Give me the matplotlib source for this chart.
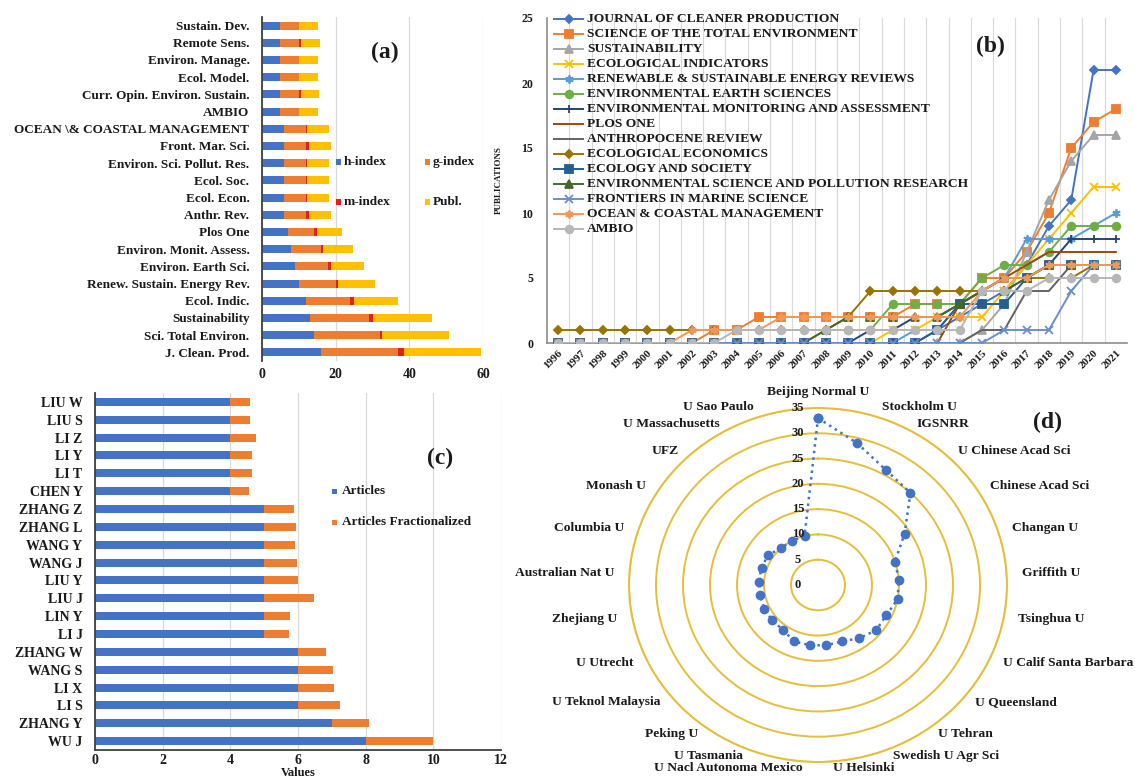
import numpy as np
import matplotlib
matplotlib.use('Agg')
import matplotlib.pyplot as plt
from matplotlib.patches import Rectangle
from matplotlib.lines import Line2D
import matplotlib.transforms as mtransforms

plt.rcParams['font.family'] = ['Liberation Serif', 'DejaVu Serif']
plt.rcParams['font.weight'] = 'bold'
TXT = '#1a1a1a'
plt.rcParams['text.color'] = TXT
plt.rcParams['xtick.color'] = TXT
plt.rcParams['ytick.color'] = TXT

W, H = 1135, 779

# ---------------- data (a) ----------------
journals_a = ['Sustain. Dev.', 'Remote Sens.', 'Environ. Manage.', 'Ecol. Model.',
              'Curr. Opin. Environ. Sustain.', 'AMBIO', 'OCEAN \\& COASTAL MANAGEMENT',
              'Front. Mar. Sci.', 'Environ. Sci. Pollut. Res.', 'Ecol. Soc.', 'Ecol. Econ.',
              'Anthr. Rev.', 'Plos One', 'Environ. Monit. Assess.', 'Environ. Earth Sci.',
              'Renew. Sustain. Energy Rev.', 'Ecol. Indic.', 'Sustainability',
              'Sci. Total Environ.', 'J. Clean. Prod.']
h_index = [5, 5, 5, 5, 5, 5, 6, 6, 6, 6, 6, 6, 7, 8, 9, 10, 12, 13, 14, 16]
g_index = [5, 5, 5, 5, 5, 5, 6, 6, 6, 6, 6, 6, 7, 8, 9, 10, 12, 16, 18, 21]
m_index = [0.15, 0.7, 0.15, 0.15, 0.6, 0.15, 0.15, 0.8, 0.15, 0.15, 0.15, 0.7, 0.8, 0.6,
           0.8, 0.6, 0.9, 1.2, 0.7, 1.5]
publ = [5, 5, 5, 5, 5, 5, 6, 6, 6, 6, 6, 6, 7, 8, 9, 10, 12, 16, 18, 21]

# ---------------- data (b) ----------------
years = list(range(1996, 2022))
series_names = ['JOURNAL OF CLEANER PRODUCTION', 'SCIENCE OF THE TOTAL ENVIRONMENT',
                'SUSTAINABILITY', 'ECOLOGICAL INDICATORS',
                'RENEWABLE & SUSTAINABLE ENERGY REVIEWS', 'ENVIRONMENTAL EARTH SCIENCES',
                'ENVIRONMENTAL MONITORING AND ASSESSMENT', 'PLOS ONE', 'ANTHROPOCENE REVIEW',
                'ECOLOGICAL ECONOMICS', 'ECOLOGY AND SOCIETY',
                'ENVIRONMENTAL SCIENCE AND POLLUTION RESEARCH', 'FRONTIERS IN MARINE SCIENCE',
                'OCEAN & COASTAL MANAGEMENT', 'AMBIO']
jcp = [0, 0, 0, 0, 0, 0, 0, 0, 0, 0, 0, 0, 0, 0, 0, 0, 0, 1, 2, 3, 4, 6, 9, 11, 21, 21]
stoten = [0, 0, 0, 0, 0, 0, 0, 1, 1, 2, 2, 2, 2, 2, 2, 2, 3, 3, 3, 5, 5, 7, 10, 15, 17, 18]
sustainability = [0, 0, 0, 0, 0, 0, 0, 0, 0, 0, 0, 0, 0, 0, 0, 0, 0, 0, 0, 1, 3, 7, 11, 14, 16, 16]
ecol_indic = [0, 0, 0, 0, 0, 0, 0, 0, 0, 0, 0, 0, 0, 0, 0, 1, 1, 2, 2, 2, 4, 6, 8, 10, 12, 12]
rser = [0, 0, 0, 0, 0, 0, 0, 0, 0, 0, 0, 0, 0, 0, 0, 0, 1, 1, 3, 4, 5, 8, 8, 8, 9, 10]
env_earth = [0, 0, 0, 0, 0, 0, 0, 0, 0, 0, 0, 0, 1, 1, 1, 3, 3, 3, 3, 5, 6, 6, 7, 9, 9, 9]
env_monit = [0, 0, 0, 0, 0, 0, 0, 0, 0, 0, 0, 0, 0, 0, 1, 1, 2, 2, 3, 4, 5, 5, 6, 8, 8, 8]
plos_one = [0, 0, 0, 0, 0, 0, 0, 0, 0, 0, 0, 0, 0, 0, 0, 0, 0, 0, 3, 4, 5, 6, 7, 7, 7, 7]
anthr_rev = [0, 0, 0, 0, 0, 0, 0, 0, 0, 0, 0, 0, 0, 0, 0, 0, 0, 0, 0, 1, 1, 4, 4, 6, 6, 6]
ecol_econ = [1, 1, 1, 1, 1, 1, 1, 1, 1, 1, 1, 1, 1, 2, 4, 4, 4, 4, 4, 4, 4, 5, 5, 5, 6, 6]
ecol_soc = [0, 0, 0, 0, 0, 0, 0, 0, 0, 0, 0, 0, 0, 0, 0, 0, 0, 1, 3, 3, 3, 5, 6, 6, 6, 6]
espr = [0, 0, 0, 0, 0, 0, 0, 0, 0, 0, 0, 0, 1, 2, 2, 2, 2, 2, 3, 4, 4, 5, 6, 6, 6, 6]
front_mar = [0, 0, 0, 0, 0, 0, 0, 0, 0, 0, 0, 0, 0, 0, 0, 0, 0, 0, 0, 0, 1, 1, 1, 4, 6, 6]
ocean_coast = [0, 0, 0, 0, 0, 0, 1, 1, 1, 1, 2, 2, 2, 2, 2, 2, 2, 2, 2, 4, 5, 5, 6, 6, 6, 6]
ambio = [0, 0, 0, 0, 0, 0, 0, 0, 1, 1, 1, 1, 1, 1, 1, 1, 1, 1, 1, 4, 4, 4, 5, 5, 5, 5]

# ---------------- data (c) ----------------
authors = ['LIU W', 'LIU S', 'LI Z', 'LI Y', 'LI T', 'CHEN Y', 'ZHANG Z', 'ZHANG L',
           'WANG Y', 'WANG J', 'LIU Y', 'LIU J', 'LIN Y', 'LI J', 'ZHANG W', 'WANG S',
           'LI X', 'LI S', 'ZHANG Y', 'WU J']
articles = [4, 4, 4, 4, 4, 4, 5, 5, 5, 5, 5, 5, 5, 5, 6, 6, 6, 6, 7, 8]
articles_frac = [0.57, 0.57, 0.75, 0.63, 0.65, 0.56, 0.87, 0.95, 0.9, 0.96, 1.0, 1.47,
                 0.76, 0.74, 0.83, 1.04, 1.06, 1.24, 1.1, 2.0]

# ---------------- data (d) ----------------
institutions = ['Beijing Normal U', 'Stockholm U', 'IGSNRR', 'U Chinese Acad Sci',
                'Chinese Acad Sci', 'Changan U', 'Griffith U', 'Tsinghua U',
                'U Calif Santa Barbara', 'U Queensland', 'U Tehran', 'Swedish U Agr Sci',
                'U Helsinki', 'U Nacl Autonoma Mexico', 'U Tasmania', 'Peking U',
                'U Teknol Malaysia', 'U Utrecht', 'Zhejiang U', 'Australian Nat U',
                'Columbia U', 'Monash U', 'UFZ', 'U Massachusetts', 'U Sao Paulo']
inst_counts = [33, 29, 26, 25, 19, 15, 15, 15, 14, 14, 13, 12, 12, 12, 12, 11, 11, 11,
               11, 11, 11, 11, 10, 10, 10]
radar_ticks = [0, 5, 10, 15, 20, 25, 30, 35]


def box(x0, y0, x1, y1):
    return [x0 / W, 1 - y1 / H, (x1 - x0) / W, (y1 - y0) / H]


def ftext(x, y, s, **kw):
    fig.text(x / W, 1 - y / H, s, **kw)


def fsquare(x, y, color, size=5):
    fig.add_artist(Rectangle(((x - size / 2) / W, 1 - (y + size / 2) / H), size / W, size / H,
                             transform=fig.transFigure, color=color, lw=0))


fig = plt.figure(figsize=(W / 100, H / 100), dpi=100)

# ======================= Panel (a) =======================
axa = fig.add_axes(box(262, 17, 483, 361))
n = len(journals_a)
ypos = np.arange(n)
left = np.zeros(n)
cols_a = ['#4472C4', '#ED7D31', '#E3211C', '#FFC000']
for vals, col in zip([h_index, g_index, m_index, publ], cols_a):
    axa.barh(ypos, vals, left=left, height=0.47, color=col, lw=0)
    left = left + np.array(vals)
axa.set_ylim(n - 0.5, -0.5)
axa.set_xlim(0, 60)
axa.set_yticks(ypos)
axa.set_yticklabels(journals_a, fontsize=9.5, fontweight='bold')
axa.set_xticks([0, 20, 40, 60])
axa.set_xticklabels(['0', '20', '40', '60'], fontsize=10, fontweight='bold')
axa.tick_params(axis='y', length=0, pad=9)
axa.tick_params(axis='x', length=0, pad=5)
axa.grid(axis='x', color='#D9D9D9', lw=0.9)
axa.set_axisbelow(True)
for s in ['top', 'right', 'bottom']:
    axa.spines[s].set_visible(False)
axa.spines['left'].set_color('#404040')
axa.spines['left'].set_linewidth(1.3)
ftext(385, 52, '(a)', fontsize=17, fontweight='bold', ha='center', va='center')
for (x, y, c, t) in [(338, 162, cols_a[0], 'h-index'), (427, 162, cols_a[1], 'g-index'),
                     (338, 202, cols_a[2], 'm-index'), (427, 202, cols_a[3], 'Publ.')]:
    fsquare(x, y, c)
    ftext(x + 6, y, t, fontsize=9.5, fontweight='bold', va='center', ha='left')

# ======================= Panel (b) =======================
axb = fig.add_axes(box(547, 18, 1127, 343))
xb = np.arange(len(years))
b_series = [jcp, stoten, sustainability, ecol_indic, rser, env_earth, env_monit, plos_one,
            anthr_rev, ecol_econ, ecol_soc, espr, front_mar, ocean_coast, ambio]
b_colors = ['#4472C4', '#ED7D31', '#A5A5A5', '#FFC000', '#5B9BD5', '#70AD47', '#264478',
            '#9E480E', '#636363', '#997300', '#255E91', '#43682B', '#698ED0', '#F1975A',
            '#B7B7B7']
b_markers = ['D', 's', '^', 'x', (6, 2, 0), 'o', '+', None, None, 'D', 's', '^', 'x',
             (6, 2, 0), 'o']
b_ms = [4.5, 5.5, 5.5, 6, 6, 5.5, 6, 0, 0, 4.5, 5.5, 5.5, 6, 6, 5.5]
for i, (vals, col, mk, ms) in enumerate(zip(b_series, b_colors, b_markers, b_ms)):
    axb.plot(xb, vals, color=col, lw=1.4, marker=mk, ms=ms, mew=1.3, zorder=3 + i)
axb.set_xlim(-0.5, len(years) - 0.5)
axb.set_ylim(0, 25)
axb.set_xticks(xb)
axb.set_xticklabels([str(y) for y in years], rotation=45, ha='right',
                    rotation_mode='anchor', fontsize=8, fontweight='bold')
axb.set_yticks([0, 5, 10, 15, 20, 25])
axb.set_yticklabels(['0', '5', '10', '15', '20', '25'], fontsize=8.5, fontweight='bold')
axb.set_xticks(np.arange(0.5, len(years) - 0.5, 1), minor=True)
axb.grid(which='minor', axis='x', color='#D9D9D9', lw=0.8)
axb.grid(which='major', visible=False)
axb.tick_params(which='both', length=0)
axb.tick_params(axis='y', pad=10)
axb.tick_params(axis='x', pad=4)
axb.set_axisbelow(True)
for s in ['top', 'right']:
    axb.spines[s].set_visible(False)
for s in ['left', 'bottom']:
    axb.spines[s].set_color('#8C8C8C')
    axb.spines[s].set_linewidth(1.2)
ftext(499, 180, 'PUBLICATIONS', rotation=90, fontsize=6.5, fontweight='bold',
      ha='center', va='center')
ftext(990, 46, '(b)', fontsize=17, fontweight='bold', ha='center', va='center')
for i, (name, col, mk, ms) in enumerate(zip(series_names, b_colors, b_markers, b_ms)):
    y = 19 + 15 * i
    x0, x1 = 554, 583
    fig.add_artist(Line2D([x0 / W, x1 / W], [1 - y / H, 1 - y / H], color=col, lw=1.4,
                          transform=fig.transFigure))
    if mk is not None:
        fig.add_artist(Line2D([(x0 + x1) / 2 / W], [1 - y / H], color=col, marker=mk,
                              ms=ms, mew=1.3, transform=fig.transFigure))
    ftext(x1 + 4, y, name, fontsize=9.7, fontweight='bold', va='center', ha='left')

# ======================= Panel (c) =======================
axc = fig.add_axes(box(95, 393, 501, 750))
nc = len(authors)
yc = np.arange(nc)
axc.barh(yc, articles, height=0.45, color='#4472C4', lw=0)
axc.barh(yc, articles_frac, left=articles, height=0.45, color='#ED7D31', lw=0)
axc.set_ylim(nc - 0.5, -0.5)
axc.set_xlim(0, 12)
axc.set_yticks(yc)
axc.set_yticklabels(authors, fontsize=10, fontweight='bold')
axc.set_xticks(range(0, 13, 2))
axc.set_xticklabels([str(v) for v in range(0, 13, 2)], fontsize=10, fontweight='bold')
axc.tick_params(axis='y', length=0, pad=9)
axc.tick_params(axis='x', length=0, pad=3)
axc.grid(axis='x', color='#D9D9D9', lw=0.9)
axc.set_axisbelow(True)
for s in ['top', 'right']:
    axc.spines[s].set_visible(False)
for s in ['left', 'bottom']:
    axc.spines[s].set_color('#404040')
    axc.spines[s].set_linewidth(1.3)
ftext(298, 773, 'Values', fontsize=9, fontweight='bold', ha='center', va='center')
ftext(440, 458, '(c)', fontsize=17, fontweight='bold', ha='center', va='center')
for (y, c, t) in [(491, '#4472C4', 'Articles'), (522, '#ED7D31', 'Articles Fractionalized')]:
    fsquare(334, y, c)
    ftext(342, y, t, fontsize=9.5, fontweight='bold', va='center', ha='left')

# ======================= Panel (d) =======================
cx, cy, RX, RY = 818, 585, 189, 177
axd = fig.add_axes(box(cx - RX, cy - RY, cx + RX, cy + RY), projection='polar')
axd.set_aspect('auto')
axd.set_theta_zero_location('N')
axd.set_theta_direction(-1)
theta = np.arange(len(institutions)) * 2 * np.pi / len(institutions)
axd.plot(np.append(theta, theta[0]), np.append(inst_counts, inst_counts[0]), ls=':',
         color='#4472C4', lw=1.8, marker='o', ms=6, zorder=5)
axd.set_ylim(0, 35)
axd.set_yticks(radar_ticks[1:])
axd.set_yticklabels([])
axd.set_xticks([])
axd.yaxis.grid(True, color='#E5BF3A', lw=1.4)
axd.spines['polar'].set_color('#E5BF3A')
axd.spines['polar'].set_linewidth(1.4)
axd.patch.set_alpha(0)
off = mtransforms.offset_copy(axd.transData, fig=fig, x=-20, y=0, units='dots')
for r in radar_ticks:
    axd.text(0, r, str(r), transform=off, fontsize=9, fontweight='bold',
             ha='center', va='center', zorder=6)
for name, a in zip(institutions, theta):
    s, c = np.sin(a), np.cos(a)
    if abs(s) < 0.05:
        x = cx
        y = cy - 193 * c
        ha = 'center'
    else:
        dx = 204 * abs(s)
        if c > 0:
            dx = max(dx, 64)
        else:
            dx = max(dx, 15) if abs(s) > 0.2 else 15
        x = cx + dx * np.sign(s)
        y = cy - 184 * c
        ha = 'left' if s > 0 else 'right'
    y = min(y, 768)
    ftext(x, y, name, fontsize=9.7, fontweight='bold', ha=ha, va='center')
ftext(1047, 422, '(d)', fontsize=17, fontweight='bold', ha='center', va='center')

fig.savefig('out.png', dpi=100)
